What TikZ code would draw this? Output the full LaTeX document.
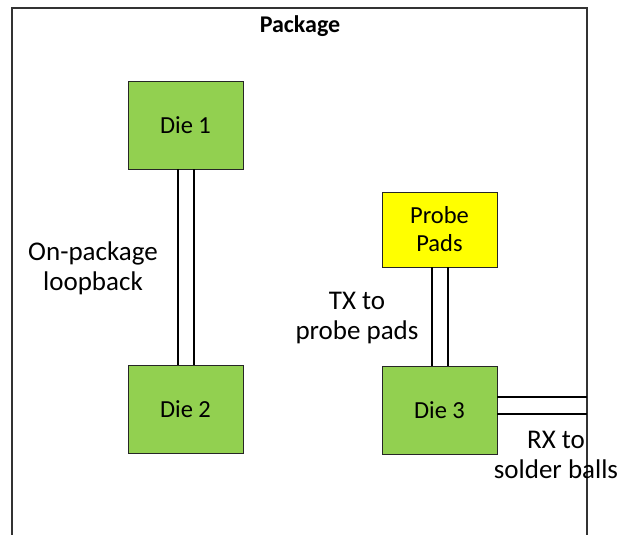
\documentclass[tikz,border=0pt]{standalone}
\usepackage{fontspec}
\setmainfont{Carlito}
\definecolor{diegreen}{HTML}{92D050}
\definecolor{padyellow}{HTML}{FFFF00}
\begin{document}
\begin{tikzpicture}[x=1pt,y=-1pt,
  chip/.style={draw=black!85,line width=0.8pt,fill=diegreen,minimum width=115pt,minimum height=88pt,inner sep=0pt,font=\fontsize{24.5}{28}\selectfont,align=center},
  pad/.style={chip,fill=padyellow,minimum height=75pt},
  wire/.style={line width=2pt},
  lbl/.style={font=\fontsize{27}{30}\selectfont,align=center,inner sep=0pt}]
\useasboundingbox (0,0) rectangle (625,535);
% package outline, open at the bottom
\draw[line width=1.2pt,black!80] (12,540) -- (12,8) -- (587,8) -- (587,540);
\node[font=\bfseries\fontsize{24}{28}\selectfont] (title) at (300,26) {Package};
% dies and probe pads
\node[chip] (d1) at (185.5,125) {Die 1};
\node[chip] (d2) at (185.5,409) {Die 2};
\node[pad] (pp) at (439.5,229.5) {Probe\\Pads};
\node[chip] (d3) at (439.5,410) {Die 3};
\coordinate (edge) at (587,405.5);
% on-package loopback
\draw[wire] ([xshift=-8pt]d1.south) -- ([xshift=-8pt]d2.north);
\draw[wire] ([xshift=8pt]d1.south) -- ([xshift=8pt]d2.north);
% TX to probe pads
\draw[wire] ([xshift=-8pt]pp.south) -- ([xshift=-8pt]d3.north);
\draw[wire] ([xshift=8pt]pp.south) -- ([xshift=8pt]d3.north);
% RX to solder balls
\draw[wire] ([yshift=-8.5pt]d3.east |- edge) -- ([yshift=-8.5pt]edge);
\draw[wire] ([yshift=8.5pt]d3.east |- edge) -- ([yshift=8.5pt]edge);
% labels
\node[lbl] (l1) at (93,268) {On-package\\loopback};
\node[lbl] (l2) at (357,318) {TX to\\probe pads};
\node[lbl] (l3) at (556,455) {RX to\\solder balls};
\end{tikzpicture}
\end{document}
